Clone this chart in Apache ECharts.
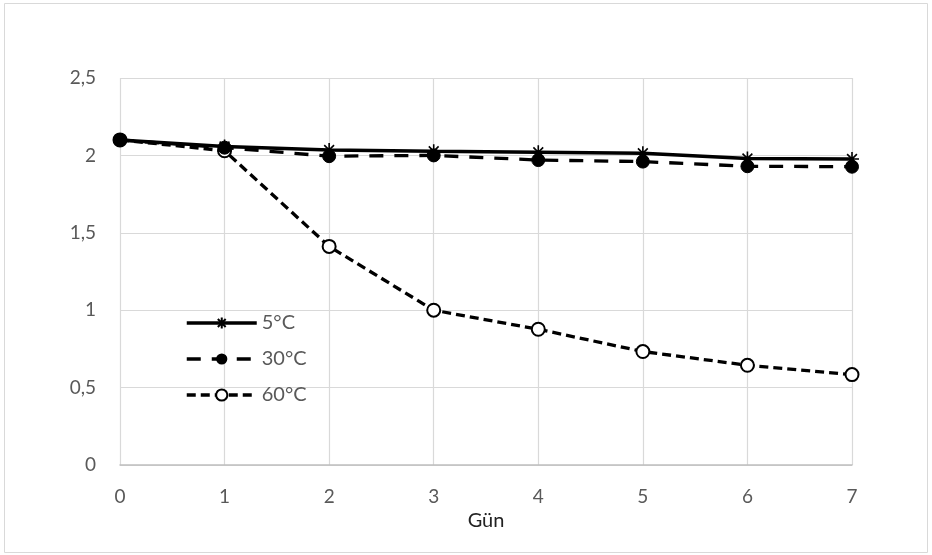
<!DOCTYPE html>
<html>
<head>
<meta charset="utf-8">
<script src="https://cdn.jsdelivr.net/npm/echarts@6/dist/echarts.min.js"></script>
<style>
  html, body { margin: 0; padding: 0; background: #fff; }
  #chart { width: 932px; height: 555px; }
</style>
</head>
<body>
<div id="chart"></div>
<script>
const days = [0, 1, 2, 3, 4, 5, 6, 7];
const t5 = [2.1, 2.057, 2.035, 2.027, 2.02, 2.014, 1.98, 1.977];
const t30 = [2.1, 2.05, 1.995, 2.0, 1.97, 1.96, 1.93, 1.927];
const t60 = [2.1, 2.03, 1.412, 1.0, 0.877, 0.733, 0.644, 0.584];
const seriesNames = ["5°C", "30°C", "60°C"];

const pair = (vals) => days.map((d, i) => [d, vals[i]]);
const star = "path://M0,-10L0,10M-10,0L10,0M-7,-7L7,7M-7,7L7,-7";
const font = "Lato, 'Open Sans', sans-serif";

const chart = echarts.init(document.getElementById("chart"));

chart.setOption({
  animation: false,
  textStyle: { fontFamily: font },
  graphic: [
    {
      type: "rect",
      shape: { x: 4.5, y: 3.5, width: 923, height: 549 },
      style: { fill: "none", stroke: "#d9d9d9", lineWidth: 1 },
      silent: true,
    },
  ],
  grid: { left: 120, right: 80, top: 78, bottom: 90 },
  legend: {
    orient: "vertical",
    left: 180,
    top: 308,
    itemWidth: 70,
    itemHeight: 14,
    itemGap: 16,
    lineStyle: { width: 3.5 },
    textStyle: { color: "#595959", fontSize: 20, fontFamily: font },
    data: seriesNames,
  },
  xAxis: {
    type: "value",
    min: 0,
    max: 7,
    interval: 1,
    name: "Gün",
    nameLocation: "middle",
    nameGap: 45,
    nameTextStyle: { color: "#222", fontSize: 20, fontFamily: font },
    axisLine: { show: true, lineStyle: { color: "#bfbfbf", width: 1.5 } },
    axisTick: { show: false },
    axisLabel: { color: "#595959", fontSize: 19, margin: 22 },
    splitLine: { show: true, lineStyle: { color: "#d9d9d9", width: 1.2 } },
  },
  yAxis: {
    type: "value",
    min: 0,
    max: 2.5,
    interval: 0.5,
    axisLine: { show: false },
    axisTick: { show: false },
    axisLabel: {
      color: "#595959",
      fontSize: 19,
      margin: 24,
      formatter: (v) => String(v).replace(".", ","),
    },
    splitLine: { lineStyle: { color: "#d9d9d9", width: 1.2 } },
  },
  series: [
    {
      name: seriesNames[0],
      type: "line",
      data: pair(t5),
      symbol: star,
      symbolSize: 14,
      lineStyle: { color: "#000", width: 3.5, type: "solid" },
      itemStyle: { color: "#000", borderColor: "#000", borderWidth: 1.6 },
      z: 3,
    },
    {
      name: seriesNames[1],
      type: "line",
      data: pair(t30),
      symbol: "circle",
      symbolSize: 13,
      lineStyle: { color: "#000", width: 3.3, type: [14, 11] },
      itemStyle: { color: "#000", borderColor: "#000" },
      z: 2,
    },
    {
      name: seriesNames[2],
      type: "line",
      data: pair(t60),
      symbol: "circle",
      symbolSize: 13,
      lineStyle: { color: "#000", width: 3.3, type: [9, 5] },
      itemStyle: { color: "#fff", borderColor: "#000", borderWidth: 2 },
      z: 1,
    },
  ],
});
</script>
</body>
</html>
